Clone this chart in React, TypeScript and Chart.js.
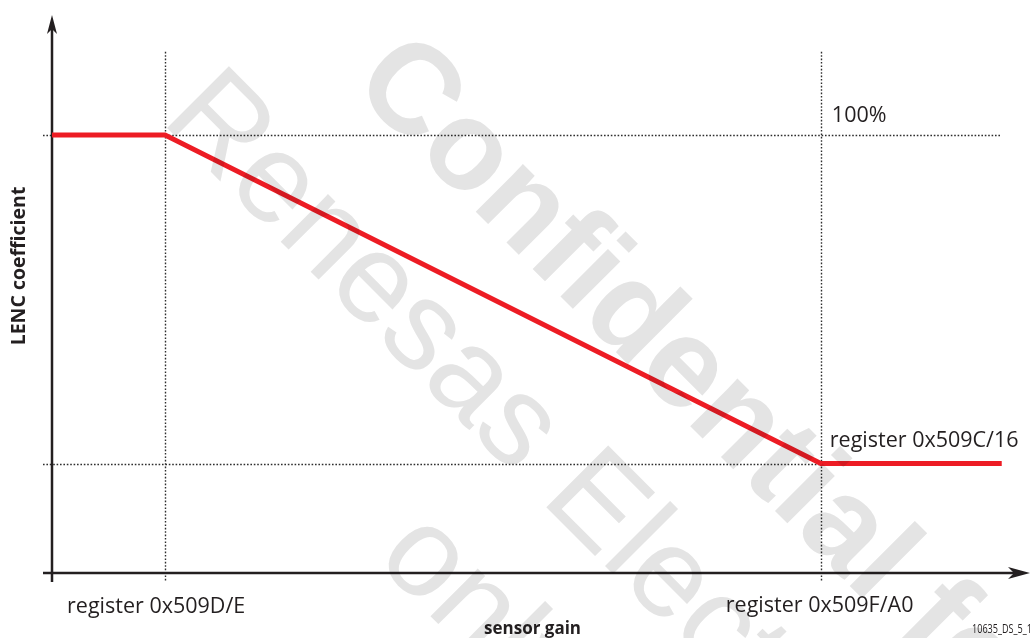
import React, { useEffect, useRef } from "react";
import { Chart, registerables } from "chart.js";

Chart.register(...registerables);

// ---- data ----
const gainPoints = [0, 1, 6.8, 8.4];
const lencValues = [100, 100, 25, 25];
const xGridValues = [1, 6.8];
const yGridValues = [100, 25];
const xTickLabels = ["register 0x509D/E", "register 0x509F/A0"];
const yLevelLabels = ["100%", "register 0x509C/16"];
const xTitle = "sensor gain";
const yTitle = "LENC coefficient";
const figureId = "10635_DS_5_1";
const watermarkLines = ["Confidential for", "Renesas Electronics", "only"];

const X_MAX = 8.65;
const Y_MAX = 127.4;
const INK = "#231f20";
const LABEL_FONT = '21.5px "Open Sans"';

const schematic = {
  id: "schematic",
  beforeDatasetsDraw(chart: any) {
    const { ctx, scales } = chart;
    const x = scales.x;
    const y = scales.y;
    const x0 = x.getPixelForValue(0);
    const y0 = y.getPixelForValue(0);
    const seg = (a: number, b: number, c: number, d: number) => {
      ctx.beginPath();
      ctx.moveTo(a, b);
      ctx.lineTo(c, d);
      ctx.stroke();
    };
    ctx.save();
    // dotted guide lines
    ctx.strokeStyle = "#2e2e2e";
    ctx.lineWidth = 1.4;
    ctx.setLineDash([1.6, 1.8]);
    xGridValues.forEach((v) => {
      const px = Math.round(x.getPixelForValue(v)) + 0.5;
      seg(px, y.getPixelForValue(119), px, y0 + 9);
    });
    yGridValues.forEach((v) => {
      const py = Math.round(y.getPixelForValue(v)) + 0.5;
      seg(x0 - 9, py, x.getPixelForValue(gainPoints[gainPoints.length - 1]), py);
    });
    // axes
    ctx.setLineDash([]);
    ctx.strokeStyle = INK;
    ctx.fillStyle = INK;
    ctx.lineWidth = 2.5;
    const yTip = y.getPixelForValue(Y_MAX);
    const xTip = x.getPixelForValue(X_MAX);
    seg(x0, y0 + 9, x0, yTip + 14);
    seg(x0 - 9, y0, xTip - 14, y0);
    // arrow heads (notched)
    ctx.beginPath();
    ctx.moveTo(x0, yTip);
    ctx.lineTo(x0 + 5, yTip + 19);
    ctx.lineTo(x0, yTip + 14);
    ctx.lineTo(x0 - 5, yTip + 19);
    ctx.closePath();
    ctx.fill();
    ctx.beginPath();
    ctx.moveTo(xTip, y0);
    ctx.lineTo(xTip - 22, y0 - 6);
    ctx.lineTo(xTip - 16, y0);
    ctx.lineTo(xTip - 22, y0 + 6);
    ctx.closePath();
    ctx.fill();
    ctx.restore();
  },
  afterDatasetsDraw(chart: any) {
    const { ctx, scales } = chart;
    const x = scales.x;
    const y = scales.y;
    const y0 = y.getPixelForValue(0);
    ctx.save();
    ctx.fillStyle = INK;
    ctx.font = LABEL_FONT;
    ctx.textAlign = "left";
    ctx.textBaseline = "alphabetic";
    // level labels
    ctx.fillText(yLevelLabels[0], x.getPixelForValue(xGridValues[1]) + 11, y.getPixelForValue(yGridValues[0]) - 13);
    ctx.fillText(yLevelLabels[1], x.getPixelForValue(xGridValues[1]) + 9, y.getPixelForValue(yGridValues[1]) - 17);
    // x tick labels
    ctx.fillText(xTickLabels[0], x.getPixelForValue(xGridValues[0]) - 98, y0 + 40);
    ctx.fillText(xTickLabels[1], x.getPixelForValue(xGridValues[1]) - 95, y0 + 39);
    // axis titles
    ctx.font = 'bold 17px "Open Sans"';
    ctx.textAlign = "center";
    ctx.fillText(xTitle, x.getPixelForValue(4.25), y0 + 61);
    ctx.save();
    ctx.translate(25, 266);
    ctx.rotate(-Math.PI / 2);
    ctx.font = 'bold 19.5px "Open Sans"';
    ctx.fillText(yTitle, 0, 0);
    ctx.restore();
    // figure id (condensed to fit)
    ctx.font = '12px "Open Sans"';
    ctx.textAlign = "left";
    const w = ctx.measureText(figureId).width;
    ctx.save();
    ctx.translate(972, y0 + 60);
    ctx.scale(60 / w, 1);
    ctx.fillText(figureId, 0, 0);
    ctx.restore();
    ctx.restore();
  },
  afterDraw(chart: any) {
    const { ctx } = chart;
    ctx.save();
    ctx.globalCompositeOperation = "multiply";
    ctx.fillStyle = "#e4e4e4";
    ctx.translate(569, 530);
    ctx.rotate(Math.PI / 4);
    ctx.textAlign = "center";
    ctx.textBaseline = "alphabetic";
    ctx.font = 'bold 127px "Liberation Sans"';
    ctx.fillText(watermarkLines[0], 0, -159);
    ctx.font = '127px "Liberation Sans"';
    ctx.fillText(watermarkLines[1], 0, 0);
    ctx.fillText(watermarkLines[2], 0, 159);
    ctx.restore();
  },
};

export default function App() {
  const canvasRef = useRef<HTMLCanvasElement | null>(null);

  useEffect(() => {
    document.body.style.margin = "0";
    const canvas = canvasRef.current;
    if (!canvas) return;
    const chart = new Chart(canvas, {
      type: "line",
      data: {
        datasets: [
          {
            data: gainPoints.map((g, i) => ({ x: g, y: lencValues[i] })),
            borderColor: "#ed1c24",
            borderWidth: 5,
            pointRadius: 0,
            tension: 0,
            fill: false,
            borderJoinStyle: "miter",
            borderCapStyle: "butt",
            clip: false,
          } as any,
        ],
      },
      options: {
        responsive: false,
        animation: false,
        layout: { padding: { left: 52, right: 3, top: 15, bottom: 65 } },
        plugins: { legend: { display: false }, tooltip: { enabled: false } },
        scales: {
          x: { type: "linear", min: 0, max: X_MAX, display: false },
          y: { type: "linear", min: 0, max: Y_MAX, display: false },
        },
      },
      plugins: [schematic],
    });
    return () => chart.destroy();
  }, []);

  return (
    <div style={{ width: 1033, height: 638, background: "#ffffff" }}>
      <canvas ref={canvasRef} width={1033} height={638} style={{ display: "block" }} />
    </div>
  );
}
